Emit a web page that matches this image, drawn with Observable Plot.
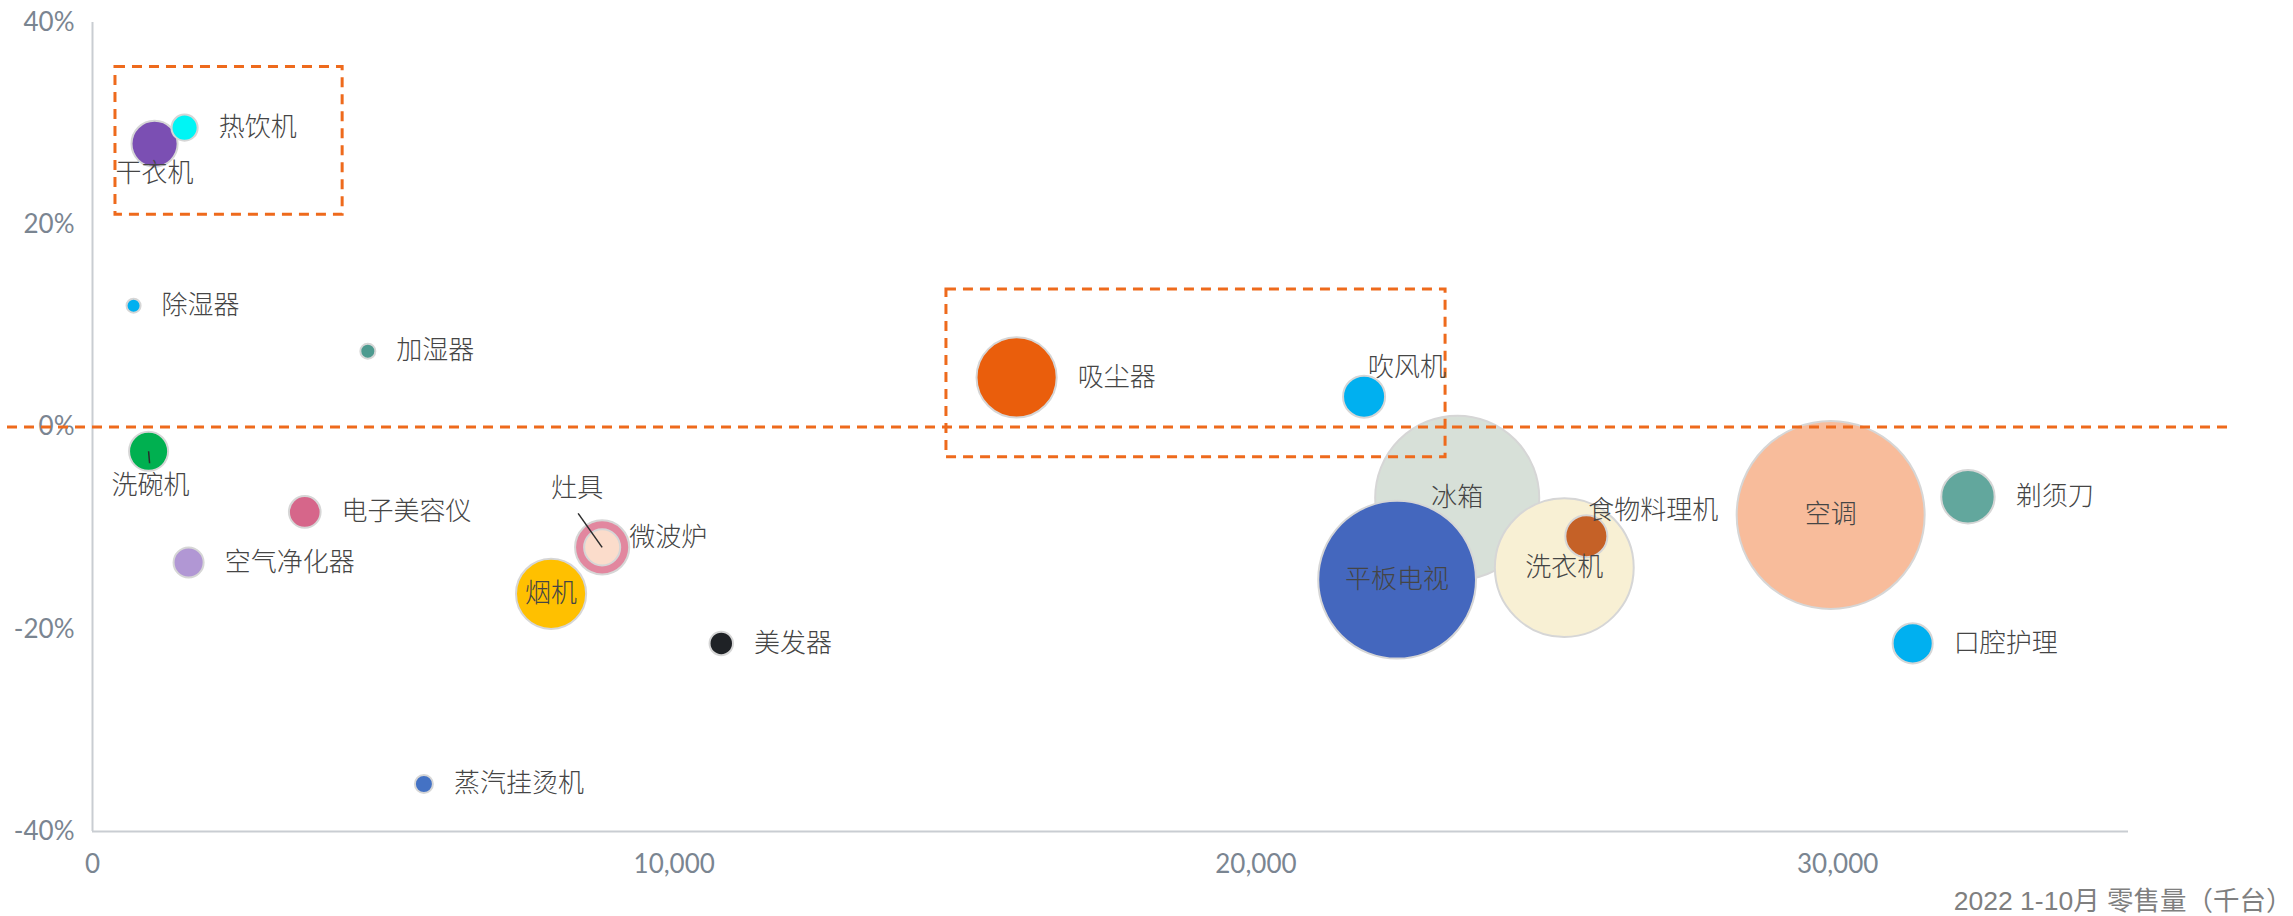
<!DOCTYPE html>
<html>
<head>
<meta charset="utf-8">
<script src="https://cdn.jsdelivr.net/npm/d3@7"></script>
<script src="https://cdn.jsdelivr.net/npm/@observablehq/plot@0.6"></script>
<style>
  html, body { margin: 0; padding: 0; background: #ffffff; }
  #chart svg { display: block; }
</style>
</head>
<body>
<div id="chart"></div>
<script>
// ---------- data ----------
const categories = ["干衣机","热饮机","除湿器","加湿器","洗碗机","电子美容仪","空气净化器","灶具","微波炉","烟机","美发器","蒸汽挂烫机","吸尘器","吹风机","冰箱","平板电视","洗衣机","食物料理机","空调","剃须刀","口腔护理"];
const retailVolume = [1067, 1583, 706, 4733, 964, 3649, 1652, 8761, 8761, 7883, 10809, 5697, 15886, 21859, 23460, 22427, 25301, 25680, 29880, 32240, 31290]; // 千台
const growthRate = [28.0, 29.6, 12.0, 7.5, -2.4, -8.4, -13.4, -11.9, -11.9, -16.5, -21.4, -35.3, 4.9, 3.0, -7.0, -15.1, -13.9, -10.8, -8.7, -6.9, -21.4]; // %
const bubbleSize = [530, 170, 49, 56, 380, 250, 225, 324, 730, 1225, 137, 81, 1600, 440, 6700, 6200, 4800, 440, 8800, 710, 400];
const bubbleColors = ["#7b4fb3","#00f5f5","#00b0f0","#4d9a8f","#00b050","#d6668a","#b197d4","#fbdccb","#e2879f","#ffc000","#1f2226","#4472c4","#ea5e0c","#00b0f0","#d7e0d8","#4467be","#f8f0d4","#c56127","#f8bc9b","#62a79d","#00b0f0"];
const xTicks = [0, 10000, 20000, 30000];
const yTicks = [-40, -20, 0, 20, 40];
const xAxisTitle = "2022 1-10月 零售量（千台）";
// highlighted regions (data units)
const boxX1 = [395, 14680];
const boxX2 = [4300, 23260];
const boxY1 = [21.0, -3.0];
const boxY2 = [35.6, 13.6];
const referenceY = [0];

// ---------- layout ----------
const W = 2293, H = 916;
const mL = 92, mR = 165, mT = 22, mB = 85;
const xDomain = [0, 35000], yDomain = [-40, 40];
const kx = (W - mL - mR) / (xDomain[1] - xDomain[0]);
const ky = (H - mT - mB) / (yDomain[1] - yDomain[0]);
const rMax = 94, sMax = d3.max(bubbleSize);
const rOf = s => rMax * Math.sqrt(s / sMax);

const items = categories.map((name, i) => ({
  name, x: retailVolume[i], y: growthRate[i], size: bubbleSize[i], color: bubbleColors[i]
})).sort((a, b) => b.size - a.size);

const boxes = boxX1.map((_, i) => ({x1: boxX1[i], x2: boxX2[i], y1: boxY1[i], y2: boxY2[i]}));

const insideLabels = new Set(["烟机","冰箱","平板电视","洗衣机","空调"]);
const customLabels = {
  "干衣机": {dx: 0, dy: 30, anchor: "middle"},
  "洗碗机": {dx: 2, dy: 34, anchor: "middle"},
  "灶具": {dx: -25, dy: -59, anchor: "middle"},
  "微波炉": {dx: 27, dy: -10, anchor: "start"},
  "吹风机": {dx: 4, dy: -29, anchor: "start"},
  "食物料理机": {dx: 2, dy: -26, anchor: "start"}
};
const leaderSpec = {"灶具": {dx: -24, dy: -34}, "洗碗机": {dx: 1, dy: 12}};
const leaders = items.filter(d => leaderSpec[d.name]).map(d => ({
  x1: d.x, y1: d.y,
  x2: d.x + leaderSpec[d.name].dx / kx,
  y2: d.y - leaderSpec[d.name].dy / ky
}));

const cjkFont = "'Noto Sans CJK SC', 'Noto Sans', sans-serif";
const tickFont = "Lato, 'Noto Sans', sans-serif";

const labelMarks = items.map(d => {
  let p;
  if (customLabels[d.name]) p = customLabels[d.name];
  else if (insideLabels.has(d.name)) p = {dx: 0, dy: 0, anchor: "middle"};
  else p = {dx: rOf(d.size) + 21, dy: 0, anchor: "start"};
  return Plot.text([d], {
    x: "x", y: "y", text: "name",
    dx: p.dx, dy: p.dy, textAnchor: p.anchor, lineAnchor: "middle",
    fontSize: 26, fontWeight: 300, fill: "#454545", fontFamily: cjkFont
  });
});

const dash = {stroke: "#ee6a1c", strokeWidth: 3, strokeDasharray: "10,7"};

const chart = Plot.plot({
  width: W, height: H,
  marginLeft: mL, marginRight: mR, marginTop: mT, marginBottom: mB,
  style: {background: "#ffffff", fontFamily: tickFont},
  x: {domain: xDomain, ticks: xTicks},
  y: {domain: yDomain, ticks: yTicks},
  r: {type: "sqrt", domain: [0, sMax], range: [0, rMax]},
  color: {type: "identity"},
  marks: [
    Plot.ruleX([xDomain[0]], {stroke: "#c9cdd2", strokeWidth: 2}),
    Plot.ruleY([yDomain[0]], {stroke: "#c9cdd2", strokeWidth: 2}),
    Plot.axisX({ticks: xTicks, tickSize: 0, tickPadding: 23, tickFormat: d3.format(","), fontSize: 26, fill: "#7a8591", label: null}),
    Plot.axisY({ticks: yTicks, tickSize: 0, tickPadding: 18, tickFormat: d => d + "%", fontSize: 26, fill: "#7a8591", label: null}),
    Plot.dot(items, {x: "x", y: "y", r: "size", fill: "color", stroke: "#d6d6d6", strokeWidth: 2, sort: null}),
    Plot.link(leaders, {x1: "x1", y1: "y1", x2: "x2", y2: "y2", stroke: "#2b2b2b", strokeWidth: 1.5}),
    Plot.ruleY(referenceY, {x1: xDomain[0] - 85 / kx, x2: xDomain[1] + 106 / kx, ...dash}),
    Plot.rect(boxes, {x1: "x1", x2: "x2", y1: "y1", y2: "y2", fill: "none", ...dash}),
    ...labelMarks,
    Plot.text([xAxisTitle], {frameAnchor: "bottom-right", dx: 164, dy: 70, textAnchor: "end", lineAnchor: "middle",
      fontSize: 26.5, fill: "#7f7f7f", fontFamily: "'Liberation Sans', 'Noto Sans CJK SC', sans-serif"})
  ]
});
document.getElementById("chart").appendChild(chart);
</script>
</body>
</html>
